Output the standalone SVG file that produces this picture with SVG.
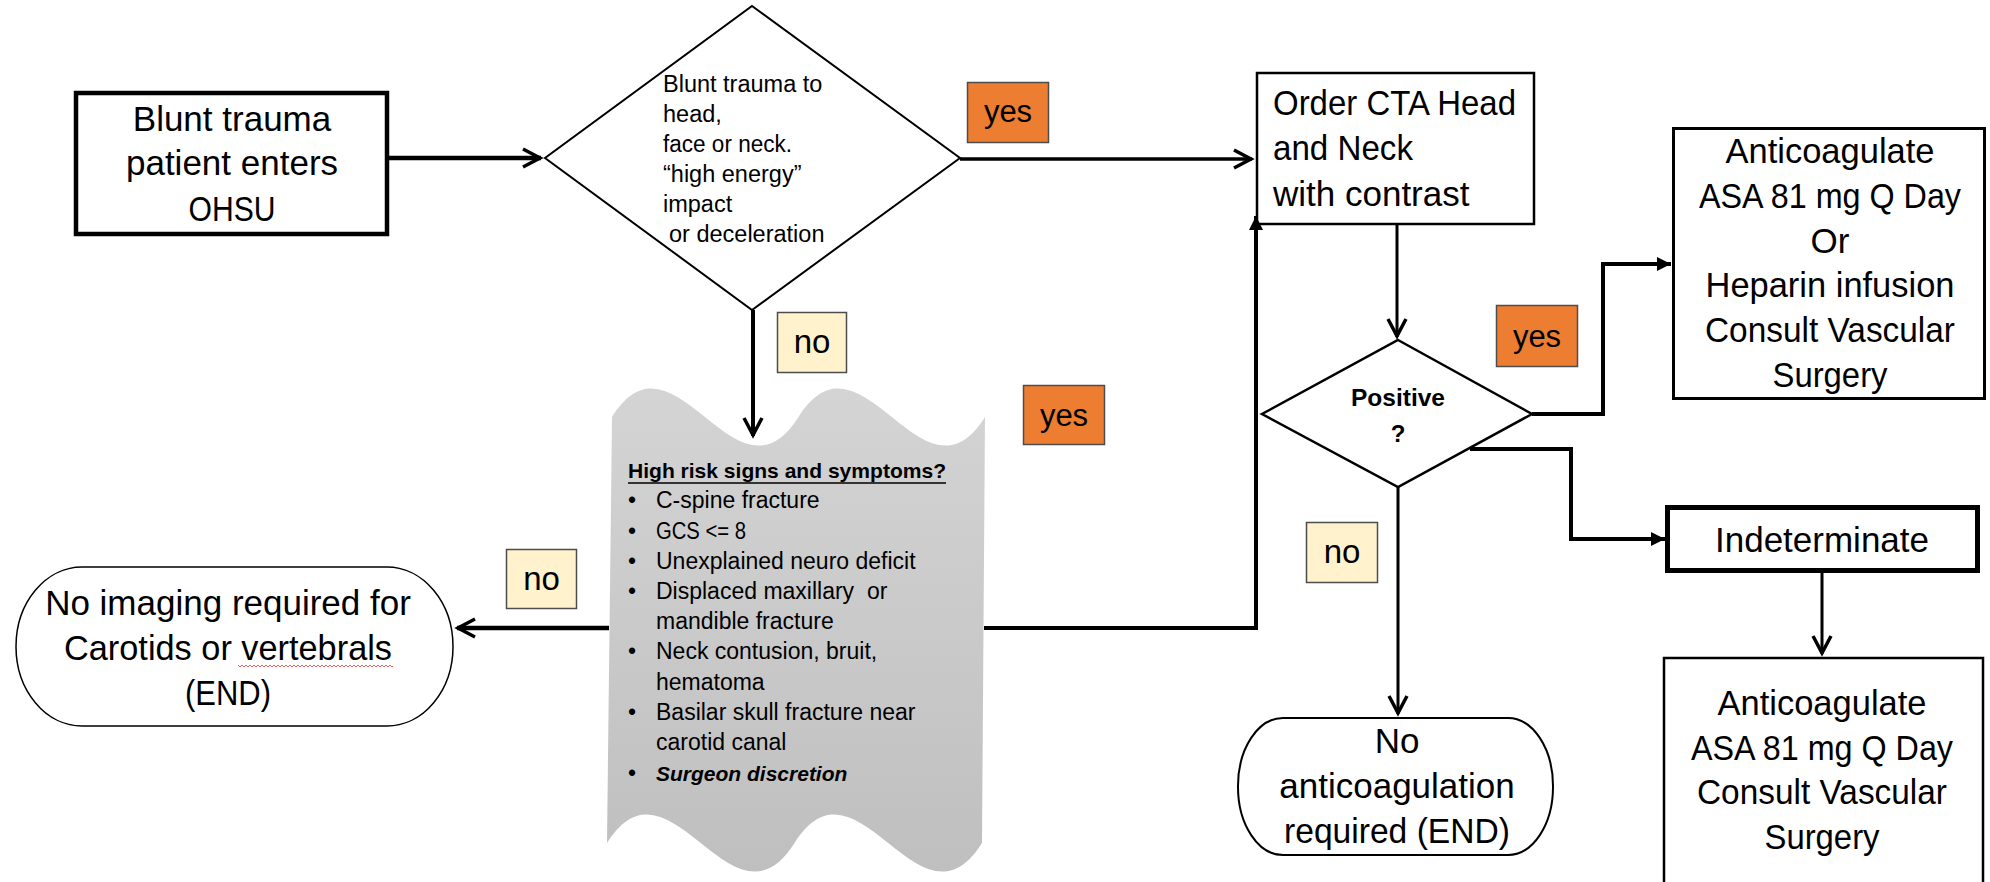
<svg xmlns="http://www.w3.org/2000/svg" width="1990" height="882" viewBox="0 0 1990 882">
<style>
text{font-family:"Liberation Sans",Arial,sans-serif;fill:#000}
.big{font-size:35px}
.sm{font-size:23.5px}
.li{font-size:23px}
.b{font-weight:bold}
.node{fill:#fff;stroke:#000}
.lab{stroke:#4d4d4d;stroke-width:1.5}
.yes{fill:#ED7D31}
.no{fill:#FFF2CC}
.c{text-anchor:middle}
.ln{fill:none;stroke:#000;stroke-linejoin:miter}
</style>
<defs>
<marker id="open" markerUnits="userSpaceOnUse" viewBox="-22 -12 26 24" refX="1" refY="0" markerWidth="26" markerHeight="24" orient="auto" overflow="visible">
<path d="M-17,-9 L0,0 L-17,9" fill="none" stroke="#000" stroke-width="3.5"/>
</marker>
<marker id="fill" markerUnits="userSpaceOnUse" viewBox="-16 -9 18 18" refX="0" refY="0" markerWidth="18" markerHeight="18" orient="auto" overflow="visible">
<path d="M-14,-7 L0,0 L-14,7 Z" fill="#000"/>
</marker>
<linearGradient id="gray" x1="0" y1="0" x2="0" y2="1">
<stop offset="0" stop-color="#d4d4d4"/>
<stop offset="1" stop-color="#bfbfbf"/>
</linearGradient>
<pattern id="sq" width="4" height="4" patternUnits="userSpaceOnUse">
<path d="M0,3 L2,1 L4,3" fill="none" stroke="#e5484d" stroke-width="0.9"/>
</pattern>
</defs>
<rect width="1990" height="882" fill="#fff"/>

<g id="start">
<rect class="node" x="76" y="93" width="311" height="141" stroke-width="4.5"/>
<text class="big c" x="232" y="131">Blunt trauma</text>
<text class="big c" x="232" y="175">patient enters</text>
<text class="big c" x="232" y="221" textLength="87" lengthAdjust="spacingAndGlyphs">OHSU</text>
</g>

<g id="decision1">
<polygon class="node" points="752,6 960,158 752,310 545,158" stroke-width="2"/>
<text class="sm" x="663" y="92">Blunt trauma to</text>
<text class="sm" x="663" y="122">head,</text>
<text class="sm" x="663" y="152" textLength="129" lengthAdjust="spacingAndGlyphs">face or neck.</text>
<text class="sm" x="663" y="182">“high energy”</text>
<text class="sm" x="663" y="212">impact</text>
<text class="sm" x="669" y="242">or deceleration</text>
</g>

<g id="cta">
<rect class="node" x="1257" y="73" width="277" height="151" stroke-width="2.5"/>
<text class="big" x="1273" y="115" textLength="243" lengthAdjust="spacingAndGlyphs">Order CTA Head</text>
<text class="big" x="1273" y="160" textLength="140" lengthAdjust="spacingAndGlyphs">and Neck</text>
<text class="big" x="1273" y="206">with contrast</text>
</g>

<g id="anticoag1">
<rect class="node" x="1673.5" y="128.5" width="311" height="270" stroke-width="3"/>
<text class="big c" x="1830" y="163" textLength="209" lengthAdjust="spacingAndGlyphs">Anticoagulate</text>
<text class="big c" x="1830" y="208" textLength="262" lengthAdjust="spacingAndGlyphs">ASA 81 mg Q Day</text>
<text class="big c" x="1830" y="253">Or</text>
<text class="big c" x="1830" y="297" textLength="249" lengthAdjust="spacingAndGlyphs">Heparin infusion</text>
<text class="big c" x="1830" y="342" textLength="250" lengthAdjust="spacingAndGlyphs">Consult Vascular</text>
<text class="big c" x="1830" y="387" textLength="115" lengthAdjust="spacingAndGlyphs">Surgery</text>
</g>

<g id="highrisk">
<path d="M612,417 C674,318 736,516 798.5,417 C861,318 923,516 985,417 L982,843 C919.5,942 857,744 794.5,843 C732,942 669.5,744 607,843 Z" fill="url(#gray)"/>
<text class="b" x="628" y="478" font-size="21" textLength="318" lengthAdjust="spacingAndGlyphs">High risk signs and symptoms?</text>
<line x1="628" y1="483" x2="946" y2="483" stroke="#000" stroke-width="1.5"/>
<text class="li" x="628" y="508">•</text><text class="li" x="656" y="508">C-spine fracture</text>
<text class="li" x="628" y="539">•</text><text class="li" x="656" y="539" textLength="90" lengthAdjust="spacingAndGlyphs">GCS &lt;= 8</text>
<text class="li" x="628" y="569">•</text><text class="li" x="656" y="569">Unexplained neuro deficit</text>
<text class="li" x="628" y="599">•</text><text class="li" x="656" y="599">Displaced maxillary&#160; or</text>
<text class="li" x="656" y="629">mandible fracture</text>
<text class="li" x="628" y="659">•</text><text class="li" x="656" y="659">Neck contusion, bruit,</text>
<text class="li" x="656" y="690">hematoma</text>
<text class="li" x="628" y="720">•</text><text class="li" x="656" y="720">Basilar skull fracture near</text>
<text class="li" x="656" y="750">carotid canal</text>
<text class="li" x="628" y="781">•</text><text class="b" x="656" y="781" font-size="21" font-style="italic">Surgeon discretion</text>
</g>

<g id="noimaging">
<rect class="node" x="16" y="567" width="437" height="159" rx="66" ry="79.5" stroke-width="1.5"/>
<text class="big c" x="228" y="615">No imaging required for</text>
<text class="big c" x="228" y="660" textLength="328" lengthAdjust="spacingAndGlyphs">Carotids or vertebrals</text>
<rect x="238" y="663" width="155" height="4" fill="url(#sq)"/>
<text class="big c" x="228" y="705" textLength="86" lengthAdjust="spacingAndGlyphs">(END)</text>
</g>

<g id="decision2">
<polygon class="node" points="1398,340 1532,414 1398,487 1262,414" stroke-width="2.5"/>
<text class="b c" x="1398" y="406" font-size="24" textLength="94" lengthAdjust="spacingAndGlyphs">Positive</text>
<text class="b c" x="1398" y="442" font-size="24">?</text>
</g>

<g id="indeterminate">
<rect class="node" x="1667.5" y="507.5" width="310" height="63" stroke-width="5"/>
<text class="big c" x="1822" y="552">Indeterminate</text>
</g>

<g id="noanticoag">
<rect class="node" x="1238" y="718" width="315" height="137" rx="45" ry="68" stroke-width="2"/>
<text class="big c" x="1397" y="753">No</text>
<text class="big c" x="1397" y="798">anticoagulation</text>
<text class="big c" x="1397" y="843" textLength="226" lengthAdjust="spacingAndGlyphs">required (END)</text>
</g>

<g id="anticoag2">
<rect class="node" x="1664" y="658" width="319" height="240" stroke-width="2.5"/>
<text class="big c" x="1822" y="715" textLength="209" lengthAdjust="spacingAndGlyphs">Anticoagulate</text>
<text class="big c" x="1822" y="760" textLength="262" lengthAdjust="spacingAndGlyphs">ASA 81 mg Q Day</text>
<text class="big c" x="1822" y="804" textLength="250" lengthAdjust="spacingAndGlyphs">Consult Vascular</text>
<text class="big c" x="1822" y="849" textLength="115" lengthAdjust="spacingAndGlyphs">Surgery</text>
</g>

<g id="connectors">
<path class="ln" d="M389,158 L541,158" stroke-width="4.5" marker-end="url(#open)"/>
<path class="ln" d="M960,159 L1252,159" stroke-width="3.5" marker-end="url(#open)"/>
<path class="ln" d="M753,310 L753,436" stroke-width="4" marker-end="url(#open)"/>
<path class="ln" d="M609,628 L457,628" stroke-width="4.5" marker-end="url(#open)"/>
<path class="ln" d="M984,628 L1256,628 L1256,216" stroke-width="4" marker-end="url(#fill)"/>
<path class="ln" d="M1397,225 L1397,337" stroke-width="3" marker-end="url(#open)"/>
<path class="ln" d="M1532,414 L1603,414 L1603,264 L1671,264" stroke-width="4" marker-end="url(#fill)"/>
<path class="ln" d="M1470,449 L1571,449 L1571,539 L1665,539" stroke-width="4" marker-end="url(#fill)"/>
<path class="ln" d="M1398,487 L1398,714" stroke-width="3" marker-end="url(#open)"/>
<path class="ln" d="M1822,573 L1822,654" stroke-width="3" marker-end="url(#open)"/>
</g>

<g id="label-yes1">
<rect class="lab yes" x="967.5" y="82.5" width="81" height="60"/>
<text class="c" x="1008" y="122" font-size="31">yes</text>
</g>
<g id="label-no1">
<rect class="lab no" x="777.5" y="312.5" width="69" height="60"/>
<text class="c" x="812" y="353" font-size="33">no</text>
</g>
<g id="label-yes2">
<rect class="lab yes" x="1023.5" y="385.5" width="81" height="59"/>
<text class="c" x="1064" y="426" font-size="31">yes</text>
</g>
<g id="label-no2">
<rect class="lab no" x="506.5" y="549.5" width="70" height="59"/>
<text class="c" x="541.5" y="590" font-size="33">no</text>
</g>
<g id="label-yes3">
<rect class="lab yes" x="1496.5" y="305.5" width="81" height="61"/>
<text class="c" x="1537" y="347" font-size="31">yes</text>
</g>
<g id="label-no3">
<rect class="lab no" x="1306.5" y="522.5" width="71" height="60"/>
<text class="c" x="1342" y="563" font-size="33">no</text>
</g>
</svg>
